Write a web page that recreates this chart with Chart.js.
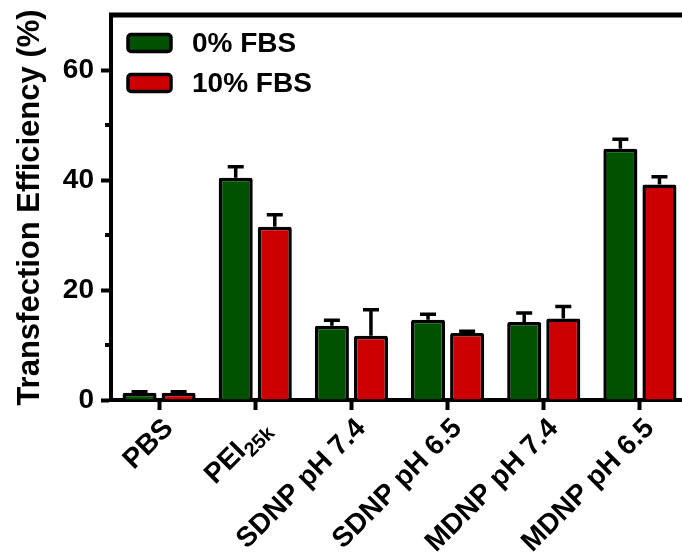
<!DOCTYPE html>
<html>
<head>
<meta charset="utf-8">
<script src="https://cdn.jsdelivr.net/npm/chart.js@4.4.1/dist/chart.umd.min.js"></script>
<style>
  html, body { margin: 0; padding: 0; background: #fff; overflow: hidden; width: 682px; height: 557px; }
  canvas { display: block; }
</style>
</head>
<body>
<canvas id="chart" width="700" height="557" style="width:700px;height:557px"></canvas>
<script>
// Formulations tested (subscripts drawn smaller and lowered)
const categories = ['PBS', 'PEI', 'SDNP pH 7.4', 'SDNP pH 6.5', 'MDNP pH 7.4', 'MDNP pH 6.5'];
const subscripts = ['', '25k', '', '', '', ''];

// Transfection efficiency (%), mean and SD, without and with serum
const fbs0 = [1.3, 40.4, 13.5, 14.6, 14.2, 45.7];
const fbs0Err = [0.2, 2.0, 1.0, 1.0, 1.6, 1.7];
const fbs10 = [1.3, 31.5, 11.7, 12.2, 14.8, 39.2];
const fbs10Err = [0.2, 2.2, 4.7, 0.3, 2.2, 1.4];

const seriesNames = ['0% FBS', '10% FBS'];

// Y axis range: minor ticks every 10, labels every 20
const yMax = 70;
const yStep = 10;
const yLabelStep = 20;

const FONT = "'Liberation Sans', Arial, sans-serif";
const GREEN = '#005200';
const RED = '#cc0000';

// Upward-only error bars with a short cap
const errorBars = {
  id: 'errorBars',
  afterDatasetsDraw(chart) {
    const ctx = chart.ctx, ys = chart.scales.y;
    ctx.save();
    ctx.strokeStyle = '#000';
    ctx.lineWidth = 3.5;
    ctx.lineCap = 'butt';
    chart.data.datasets.forEach((ds, di) => {
      chart.getDatasetMeta(di).data.forEach((bar, i) => {
        const v = ds.data[i], e = ds.errors[i];
        const y0 = ys.getPixelForValue(v);
        const y1 = ys.getPixelForValue(v + e);
        ctx.beginPath();
        ctx.moveTo(bar.x, y0);
        ctx.lineTo(bar.x, y1);
        ctx.moveTo(bar.x - 8, y1);
        ctx.lineTo(bar.x + 8, y1);
        ctx.stroke();
      });
    });
    ctx.restore();
  }
};

// Top frame line and short minor ticks on the value axis
const frame = {
  id: 'frame',
  afterDraw(chart) {
    const ctx = chart.ctx, a = chart.chartArea, ys = chart.scales.y;
    ctx.save();
    ctx.strokeStyle = '#000';
    ctx.lineWidth = 5;
    ctx.beginPath();
    ctx.moveTo(a.left - 2, a.top);
    ctx.lineTo(chart.width, a.top);
    ctx.stroke();
    ctx.lineWidth = 4;
    for (let v = yStep; v < yMax; v += yStep) {
      if (v % yLabelStep === 0) continue;
      const y = ys.getPixelForValue(v);
      ctx.beginPath();
      ctx.moveTo(a.left - 6, y);
      ctx.lineTo(a.left, y);
      ctx.stroke();
    }
    ctx.restore();
  }
};

// Legend inside the plot, top left
const legendBox = {
  id: 'legendBox',
  afterDraw(chart) {
    const ctx = chart.ctx, a = chart.chartArea;
    ctx.save();
    chart.data.datasets.forEach((ds, i) => {
      const yc = a.top + 28 + i * 40;
      const x0 = a.left + 17;
      ctx.beginPath();
      ctx.roundRect(x0, yc - 8.5, 43, 17, 3);
      ctx.fillStyle = ds.backgroundColor;
      ctx.fill();
      ctx.lineWidth = 3.5;
      ctx.strokeStyle = '#000';
      ctx.stroke();
      ctx.fillStyle = '#000';
      ctx.font = `bold 28px ${FONT}`;
      ctx.textAlign = 'left';
      ctx.textBaseline = 'middle';
      ctx.fillText(ds.label, a.left + 81, yc + 1);
    });
    ctx.restore();
  }
};

// Rotated category labels, with subscript support
const xLabels = {
  id: 'xLabels',
  afterDraw(chart) {
    const ctx = chart.ctx, xs = chart.scales.x;
    const base = chart.chartArea.bottom + 24;
    ctx.save();
    ctx.fillStyle = '#000';
    ctx.textBaseline = 'middle';
    ctx.textAlign = 'right';
    categories.forEach((lab, i) => {
      const x = xs.getPixelForTick(i) + 10;
      ctx.save();
      ctx.translate(x, base);
      ctx.rotate(-Math.PI / 4);
      let off = 0;
      if (subscripts[i]) {
        ctx.font = `bold 20px ${FONT}`;
        ctx.fillText(subscripts[i], 0, 9);
        off = ctx.measureText(subscripts[i]).width;
      }
      ctx.font = `bold 28px ${FONT}`;
      ctx.fillText(lab, -off, 0);
      ctx.restore();
    });
    ctx.restore();
  }
};

const barStyle = {
  borderColor: '#000',
  borderWidth: 3.5,
  borderRadius: 2,
  borderSkipped: 'start',
  categoryPercentage: 0.8125,
  barPercentage: 0.872
};

new Chart(document.getElementById('chart'), {
  type: 'bar',
  data: {
    labels: categories.map((c, i) => c + subscripts[i]),
    datasets: [
      Object.assign({ label: seriesNames[0], data: fbs0, errors: fbs0Err, backgroundColor: GREEN }, barStyle),
      Object.assign({ label: seriesNames[1], data: fbs10, errors: fbs10Err, backgroundColor: RED }, barStyle)
    ]
  },
  options: {
    responsive: false,
    animation: false,
    devicePixelRatio: 1,
    layout: { padding: { top: 15, right: 12, left: 0, bottom: 0 } },
    plugins: { legend: { display: false }, tooltip: { enabled: false } },
    scales: {
      x: {
        offset: true,
        grid: { offset: false, drawOnChartArea: false, drawTicks: true, tickLength: 10, tickWidth: 4, tickColor: '#000' },
        border: { display: true, width: 4, color: '#000' },
        ticks: { display: false },
        afterFit(s) { s.height = 157; s.paddingLeft = 0; s.paddingRight = 0; }
      },
      y: {
        min: 0,
        max: yMax,
        ticks: {
          stepSize: yStep,
          callback: v => (v % yLabelStep === 0 && v < yMax) ? String(v) : null,
          color: '#000',
          padding: 7,
          font: { family: FONT, size: 28, weight: 'bold' }
        },
        grid: { drawOnChartArea: false, drawTicks: true, tickLength: 10, tickWidth: 4, tickColor: '#000' },
        border: { display: true, width: 4, color: '#000' },
        title: {
          display: true,
          text: 'Transfection Efficiency (%)',
          color: '#000',
          font: { family: FONT, size: 31, weight: 'bold' },
          padding: { top: 12, bottom: 0 }
        },
        afterFit(s) { s.width = 111; s.paddingTop = 0; s.paddingBottom = 0; }
      }
    }
  },
  plugins: [errorBars, frame, legendBox, xLabels]
});
</script>
</body>
</html>
